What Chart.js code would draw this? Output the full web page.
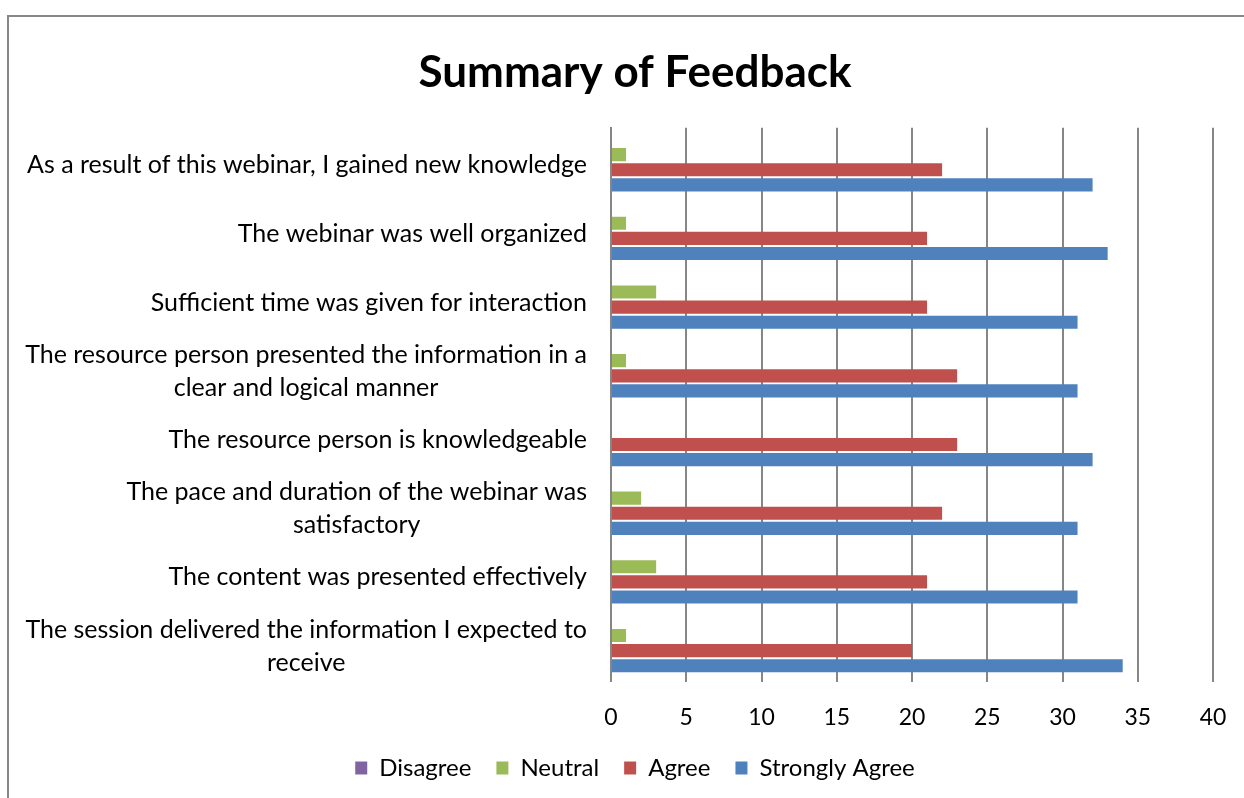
<!DOCTYPE html>
<html>
<head>
<meta charset="utf-8">
<script src="https://cdn.jsdelivr.net/npm/chart.js@4.4.1/dist/chart.umd.min.js"></script>
<style>
    html, body { margin: 0; padding: 0; background: #fff; overflow: hidden; }
    #wrap { position: absolute; left: 0; top: 0; width: 1270px; height: 798px; }
</style>
</head>
<body>
<div id="wrap"><canvas id="feedbackChart"></canvas></div>
<script>
// statements, top to bottom as shown
const statements = [
    ['As a result of this webinar, I gained new knowledge'],
    ['The webinar was well organized'],
    ['Sufficient time was given for interaction'],
    ['The resource person presented the information in a', 'clear and logical manner'],
    ['The resource person is knowledgeable'],
    ['The pace and duration of the webinar was', 'satisfactory'],
    ['The content was presented effectively'],
    ['The session delivered the information I expected to', 'receive']
];

const disagree = [0, 0, 0, 0, 0, 0, 0, 0];
const neutral = [1, 1, 3, 1, 0, 2, 3, 1];
const agree = [22, 21, 21, 23, 23, 22, 21, 20];
const stronglyAgree = [32, 33, 31, 31, 32, 31, 31, 34];

const xTicks = [0, 5, 10, 15, 20, 25, 30, 35, 40];

const FONT = 'Lato, "Open Sans", sans-serif';
const GRID = '#868686';

// outer frame of the chart object (cropped at right/bottom)
const framePlugin = {
    id: 'frame',
    beforeDraw(chart) {
        const ctx = chart.ctx;
        ctx.save();
        ctx.fillStyle = '#fff';
        ctx.fillRect(0, 0, chart.width, chart.height);
        ctx.strokeStyle = '#878787';
        ctx.lineWidth = 2;
        ctx.strokeRect(8, 16, chart.width + 50, chart.height + 50);
        ctx.restore();
    }
};

// category labels: block right aligned, wrapped lines centred within the block
const categoryLabels = {
    id: 'categoryLabels',
    afterDraw(chart) {
        const scale = chart.scales.y;
        const ctx = chart.ctx;
        const rightX = scale.right - 24;
        const lineGap = 33;
        ctx.save();
        ctx.font = '25px ' + FONT;
        ctx.fillStyle = '#000';
        ctx.textAlign = 'center';
        ctx.textBaseline = 'middle';
        statements.forEach((lines, i) => {
            const y = scale.getPixelForTick(i) + 3;
            const blockW = Math.max(...lines.map(l => ctx.measureText(l).width));
            const cx = rightX - blockW / 2;
            const top = y - (lines.length - 1) * lineGap / 2;
            lines.forEach((l, j) => ctx.fillText(l, cx, top + j * lineGap));
        });
        ctx.restore();
    }
};

new Chart(document.getElementById('feedbackChart'), {
    type: 'bar',
    data: {
        labels: statements,
        datasets: [
            { label: 'Disagree', data: disagree, backgroundColor: '#8064A2' },
            { label: 'Neutral', data: neutral, backgroundColor: '#9BBB59' },
            { label: 'Agree', data: agree, backgroundColor: '#C0504D' },
            { label: 'Strongly Agree', data: stronglyAgree, backgroundColor: '#4F81BD' }
        ]
    },
    options: {
        indexAxis: 'y',
        responsive: true,
        maintainAspectRatio: false,
        animation: false,
        categoryPercentage: 0.88,
        barPercentage: 0.87,
        layout: {
            padding: { top: 46, right: 57, bottom: 8, left: 57 }
        },
        plugins: {
            title: {
                display: true,
                text: 'Summary of Feedback',
                color: '#000',
                font: { family: FONT, size: 44, weight: 'bold' },
                padding: { top: 0, bottom: 29 }
            },
            legend: {
                position: 'bottom',
                labels: {
                    color: '#000',
                    font: { family: FONT, size: 24 },
                    boxWidth: 12,
                    boxHeight: 13,
                    padding: 25
                }
            },
            tooltip: { enabled: false }
        },
        scales: {
            x: {
                min: 0,
                max: 40,
                afterBuildTicks: (scale) => {
                    scale.ticks = xTicks.map(v => ({ value: v }));
                },
                ticks: {
                    color: '#000',
                    font: { family: FONT, size: 23 },
                    padding: 0
                },
                grid: {
                    color: GRID,
                    lineWidth: 2,
                    drawTicks: true,
                    tickLength: 26,
                    tickBorderDash: [5, 100]
                },
                border: { display: false }
            },
            y: {
                afterFit: (scale) => { scale.width = 554; },
                ticks: { display: false },
                grid: { display: false },
                border: { display: true, color: GRID, width: 2 }
            }
        }
    },
    plugins: [framePlugin, categoryLabels]
});
</script>
</body>
</html>
